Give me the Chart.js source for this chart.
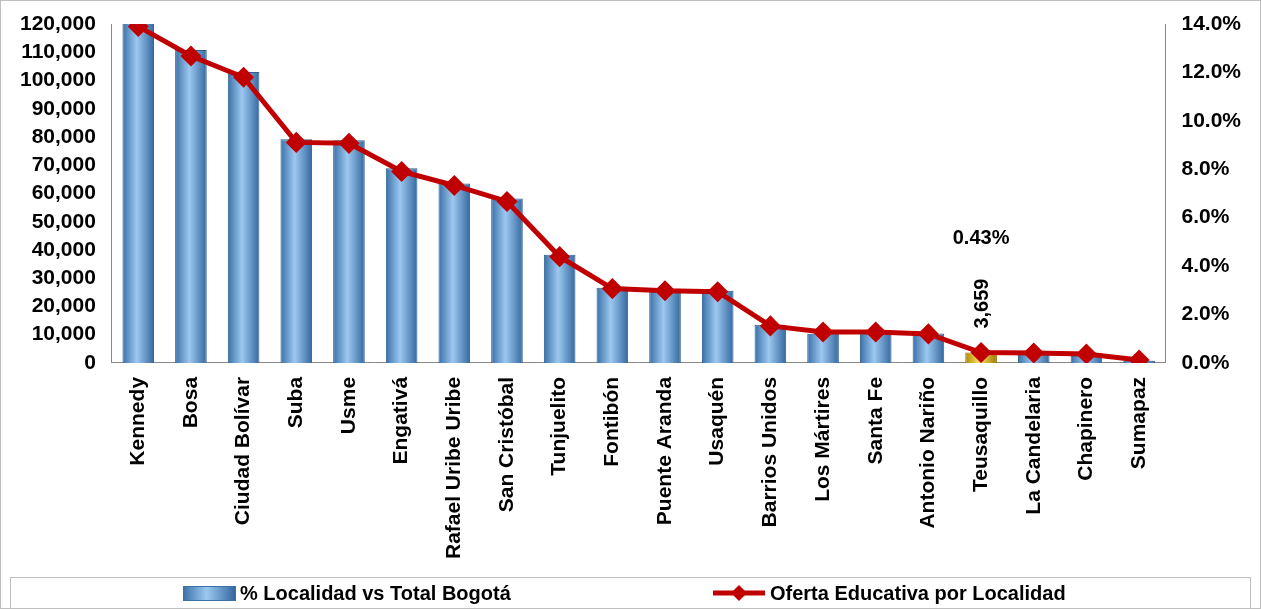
<!DOCTYPE html>
<html><head><meta charset="utf-8">
<script src="https://cdn.jsdelivr.net/npm/chart.js@4"></script>
<style>html,body{margin:0;padding:0;background:#fff}</style>
</head><body><canvas id="c" width="1261" height="609"></canvas>
<script>
const categories=["Kennedy","Bosa","Ciudad Bolívar","Suba","Usme","Engativá","Rafael Uribe Uribe","San Cristóbal","Tunjuelito","Fontibón","Puente Aranda","Usaquén","Barrios Unidos","Los Mártires","Santa Fe","Antonio Nariño","Teusaquillo","La Candelaria","Chapinero","Sumapaz"];
const barValues=[121000,110800,103000,79200,78800,68900,63500,58200,38300,26600,26300,25600,13500,10300,10300,10400,3659,3600,3500,800];
const lineValues=[13.9,12.68,11.8,9.11,9.07,7.91,7.33,6.67,4.39,3.07,2.98,2.94,1.53,1.28,1.28,1.2,0.43,0.41,0.37,0.12];
const barLabel="% Localidad vs Total Bogotá";
const lineLabel="Oferta Educativa por Localidad";
const highlightIndex=16;
const F={family:"Liberation Sans, Arial",size:21,weight:"bold"};
function mkGrad(c,x0,x1,gold){
  const g=c.createLinearGradient(x0,0,x1,0);
  if(gold){g.addColorStop(0,"#B08800");g.addColorStop(0.45,"#FFE066");g.addColorStop(1,"#A07800");}
  else{g.addColorStop(0,"#3A70A8");g.addColorStop(0.45,"#9CC8F0");g.addColorStop(1,"#3568A0");}
  return g;
}
const gradPlug={id:"gp",beforeDatasetDraw(ch,args){
  if(args.index!==1) return;
  ch.getDatasetMeta(1).data.forEach((el,i)=>{
    el.options=Object.assign({},el.options,{
      backgroundColor:mkGrad(ch.ctx,el.x-el.width/2,el.x+el.width/2,i===highlightIndex),
      borderColor:i===highlightIndex?"#8A6A00":"#2F5F90"});
  });
}};
const deco={id:"deco",afterDraw(ch){
  const c=ch.ctx;c.save();
  c.strokeStyle="#BFBFBF";c.lineWidth=1;
  c.strokeRect(0.5,0.5,1260,608);
  c.beginPath();c.moveTo(10,577.5);c.lineTo(1250,577.5);c.moveTo(10.5,577);c.lineTo(10.5,609);c.moveTo(1250.5,577);c.lineTo(1250.5,609);c.stroke();
  c.fillStyle=mkGrad(c,183,235,false);c.fillRect(183,586,52,14);
  c.strokeStyle="#3A70A8";c.strokeRect(183.5,586.5,52,14);
  c.strokeStyle="#C00000";c.lineWidth=5;c.beginPath();c.moveTo(713,593);c.lineTo(765,593);c.stroke();
  c.fillStyle="#C00000";c.beginPath();c.moveTo(739,585);c.lineTo(747,593);c.lineTo(739,601);c.lineTo(731,593);c.closePath();c.fill();
  c.fillStyle="#000";c.font="bold 20px Liberation Sans, Arial";c.textBaseline="middle";c.textAlign="left";
  c.fillText(barLabel,240,594);c.fillText(lineLabel,770,594);
  const el=ch.getDatasetMeta(1).data[highlightIndex];
  c.save();c.translate(el.x+1,el.y-24);c.rotate(-Math.PI/2);
  c.fillText(barValues[highlightIndex].toLocaleString("en-US"),0,0);c.restore();
  c.textAlign="center";c.fillText(lineValues[highlightIndex].toFixed(2)+"%",el.x,238);
  c.restore();
}};
new Chart(document.getElementById("c"),{
  data:{labels:categories,datasets:[
    {type:"line",label:lineLabel,data:lineValues,yAxisID:"y1",borderColor:"#C00000",backgroundColor:"#C00000",borderWidth:5,pointStyle:"rectRot",pointRadius:7,pointBackgroundColor:"#C00000",pointBorderColor:"#C00000",tension:0,order:0},
    {type:"bar",label:barLabel,data:barValues,yAxisID:"y",backgroundColor:"#5B9BD5",borderWidth:1,categoryPercentage:0.6,barPercentage:1,order:1}
  ]},
  options:{responsive:false,animation:false,devicePixelRatio:1,
    layout:{padding:{top:24,right:12,left:12,bottom:44}},
    plugins:{tooltip:{enabled:false},legend:{display:false}},
    scales:{
      x:{grid:{display:false},border:{color:"#888"},ticks:{color:"#000",font:F,padding:6,maxRotation:90,minRotation:90,autoSkip:false}},
      y:{min:0,max:120000,ticks:{stepSize:10000,color:"#000",font:F,padding:8,callback:v=>v.toLocaleString("en-US")},grid:{display:false},border:{color:"#888"}},
      y1:{position:"right",min:0,max:14,ticks:{stepSize:2,color:"#000",font:F,padding:8,callback:v=>v.toFixed(1)+"%"},grid:{display:false},border:{color:"#888"}}
    }},
  plugins:[gradPlug,deco]
});
</script>
</body></html>
